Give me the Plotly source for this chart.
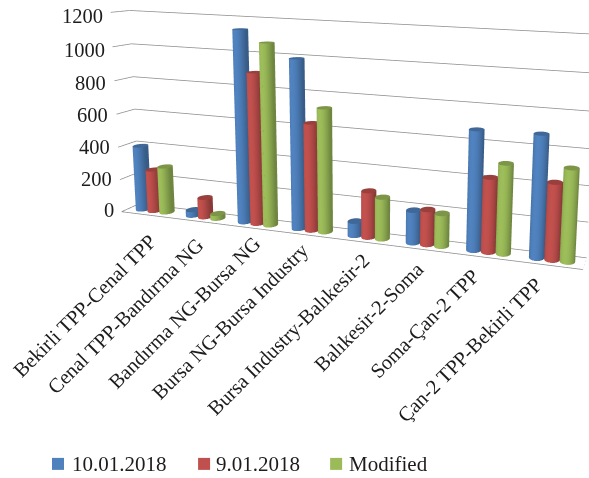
import numpy as np
import plotly.graph_objects as go

categories = ["Bekirli TPP-Cenal TPP", "Cenal TPP-Bandırma NG", "Bandırma NG-Bursa NG",
              "Bursa NG-Bursa Industry", "Bursa Industry-Balıkesir-2", "Balıkesir-2-Soma",
              "Soma-Çan-2 TPP", "Çan-2 TPP-Bekirli TPP"]
series_a = [398, 36, 1135, 990, 84, 187, 672, 678]
series_b = [258, 120, 895, 630, 270, 200, 417, 425]
series_c = [285, 30, 1068, 722, 242, 187, 502, 510]
tick_values = [0, 200, 400, 600, 800, 1000, 1200]

W, H = 589, 478

# Camera of the 3D scene; the scene is larger than the window so that the
# perspective stays gentle, and the page shows the part holding the chart.
eye = (1.5928, -3.4599, 0.9025)
center = (1.5573, -3.3199, 0.8779)
up = (-0.3278, 1.1681, 1.0)
aspect = (2.5027, 0.1447, 1.0818)
PX, PY, FOCAL = 479.3, 82.2, 767.3
SCENE_H = FOCAL * 2 * np.tan(np.pi / 8)
FW = 2 * PX
OFF = SCENE_H / 2 - PY
EXTRA = 300.0
FH = SCENE_H + EXTRA

x_lo, x_hi = -.5, 7.5
z_hi = 1200
RADIUS_X = 0.0148 * 8
RADIUS_Y = 0.29


def shade(rgb, k):
    return "rgb(%d,%d,%d)" % tuple(min(255, int(c * k)) for c in rgb)


def cylinders(values, offset, rgb, name):
    """One mesh holding a cylinder per category, shaded per vertex around its side."""
    xs, ys, zs, cols, i, j, k = [], [], [], [], [], [], []
    n = 28
    rx, ry = RADIUS_X, RADIUS_Y
    for g, val in enumerate(values):
        cx = g + offset * 2 * rx
        base = len(xs)
        for s in range(n + 1):
            t = 2 * np.pi * s / n
            lit = .72 + .3 * max(0, -np.sin(t + .2)) ** 1.2
            for z in (0, val):
                xs.append(cx + rx * np.cos(t)); ys.append(.5 + ry * np.sin(t)); zs.append(z)
                cols.append(shade(rgb, lit))
        for s in range(n):
            a = base + 2 * s
            i += [a, a + 1]; j += [a + 1, a + 3]; k += [a + 2, a + 2]
        hub = len(xs)
        xs.append(cx); ys.append(.5); zs.append(val); cols.append(shade(rgb, .8))
        for s in range(n + 1):
            t = 2 * np.pi * s / n
            xs.append(cx + rx * np.cos(t)); ys.append(.5 + ry * np.sin(t)); zs.append(val)
            cols.append(shade(rgb, .8))
        for s in range(n):
            i.append(hub); j.append(hub + 1 + s); k.append(hub + 2 + s)
    return go.Mesh3d(x=xs, y=ys, z=zs, i=i, j=j, k=k, vertexcolor=cols, name=name,
                     flatshading=False, hoverinfo="skip",
                     lighting=dict(ambient=1, diffuse=0, specular=0, fresnel=0, roughness=1))


fig = go.Figure()
GRID = "#8c8c8c"
for t in tick_values:
    fig.add_trace(go.Scatter3d(x=[x_lo, x_lo, x_hi], y=[0, 1, 1], z=[t, t, t], mode="lines",
                               line=dict(color=GRID, width=1.5), hoverinfo="skip", showlegend=False))
fig.add_trace(go.Scatter3d(x=[x_lo, x_hi, x_hi], y=[0, 0, 1], z=[0, 0, 0], mode="lines",
                           line=dict(color=GRID, width=1.5), hoverinfo="skip", showlegend=False))
fig.add_trace(cylinders(series_a, -1, (79, 129, 189), "10.01.2018"))
fig.add_trace(cylinders(series_b, 0, (192, 80, 77), "9.01.2018"))
fig.add_trace(cylinders(series_c, 1, (155, 187, 89), "Modified"))

FONT = "Liberation Serif"
INK = "#1c1c1c"
notes = [dict(x=x_lo, y=0, z=t, text=str(t), showarrow=False, xanchor="right", xshift=-6,
              yshift=2 - 6 * t / z_hi, font=dict(family=FONT, size=20.5, color=INK)) for t in tick_values]

# Page positions of the upper right end of each rotated category label.
label_right = [163, 210, 267, 316, 377, 430, 487, 549]
label_top = [228, 231, 230, 236, 246, 256, 262, 271]
labels = [dict(xref="paper", yref="paper", x=lx / FW, y=1 - (ly + OFF) / FH, text=c, showarrow=False,
               textangle=-45, xanchor="right", yanchor="top",
               font=dict(family=FONT, size=20.5, color=INK))
          for c, lx, ly in zip(categories, label_right, label_top)]

legend_items = [("10.01.2018", 52, 70, "#4f81bd"), ("9.01.2018", 198, 214, "#c0504d"), ("Modified", 330, 347, "#9bbb59")]
shapes = []
for name, sx, tx, col in legend_items:
    shapes.append(dict(type="rect", xref="paper", yref="paper", x0=sx / FW, x1=(sx + 12) / FW,
                       y0=1 - (470 + OFF) / FH, y1=1 - (458 + OFF) / FH, fillcolor=col, line_width=0))
    labels.append(dict(xref="paper", yref="paper", x=tx / FW, y=1 - (464 + OFF) / FH, text=name, showarrow=False,
                       xanchor="left", yanchor="middle", font=dict(family=FONT, size=21, color=INK)))

hidden = dict(visible=False)
fig.update_layout(
    width=FW, height=FH, margin=dict(l=0, r=0, t=0, b=0), paper_bgcolor="white", showlegend=False,
    shapes=shapes, annotations=labels,
    scene=dict(domain=dict(x=[0, 1], y=[EXTRA / FH, 1]),
               xaxis=dict(range=[x_lo, x_hi], **hidden), yaxis=dict(range=[0, 1], **hidden),
               zaxis=dict(range=[0, z_hi], **hidden),
               aspectmode="manual", aspectratio=dict(x=aspect[0], y=aspect[1], z=aspect[2]),
               camera=dict(eye=dict(x=eye[0], y=eye[1], z=eye[2]),
                           center=dict(x=center[0], y=center[1], z=center[2]),
                           up=dict(x=up[0], y=up[1], z=up[2])),
               annotations=notes),
)
fig.write_html("out.html", post_script=(
    "document.documentElement.style.overflow='hidden';document.body.style.overflow='hidden';"
    "var gd=document.getElementById('{plot_id}');gd.style.position='absolute';gd.style.left='0px';"
    "gd.style.top='%.2fpx';" % (-OFF)))
